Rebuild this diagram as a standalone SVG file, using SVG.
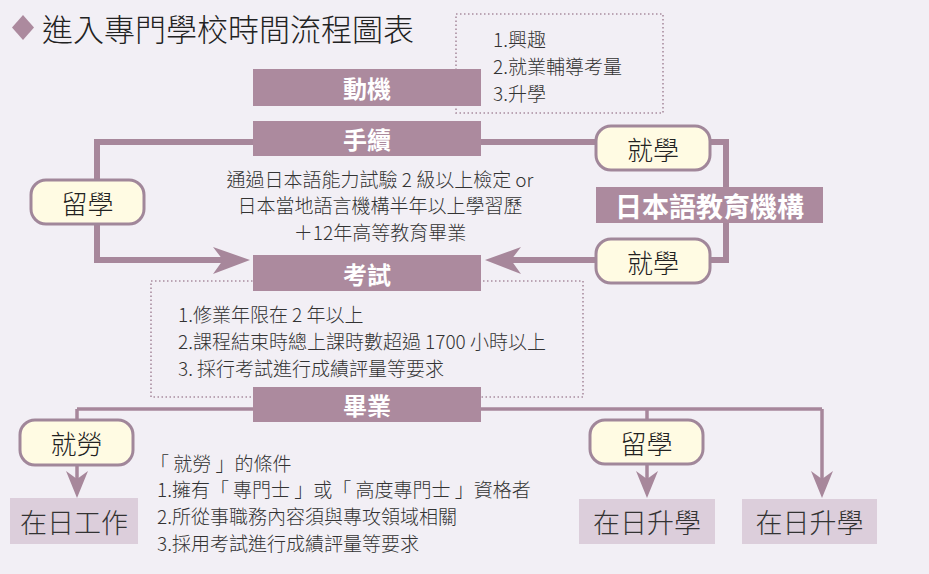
<svg xmlns="http://www.w3.org/2000/svg" width="929" height="574" viewBox="0 0 929 574">
<style>
text{font-family:"Noto Sans CJK TC","Noto Sans CJK SC",sans-serif;dominant-baseline:central;font-weight:300;}
.bx{fill:#ac8a9e;}
.bt{fill:#ffffff;font-weight:bold;font-size:24px;text-anchor:middle;}
.pill{fill:#fffbe3;stroke:#a1879a;stroke-width:3;}
.pt{fill:#222;font-size:26px;text-anchor:middle;}
.lt{fill:#dccedb;}
.ltt{fill:#333;font-size:27px;text-anchor:middle;}
.body{fill:#333;font-size:19px;}
.dot{fill:none;stroke:#a98d9f;stroke-width:1.6;stroke-dasharray:1.5 2.5;}
.thick{fill:none;stroke:#a7879b;stroke-width:6;}
.thin{fill:none;stroke:#a7879b;stroke-width:3.5;}
.ah{fill:#a7879b;}
</style>
<rect x="0" y="0" width="929" height="574" fill="#f2eff5"/>

<g id="title">
<polygon points="23,15 34,27.5 23,40 12,27.5" fill="#ac8a9e"/>
<text x="42" y="27" style="font-size:31px;fill:#222;">進入專門學校時間流程圖表</text>
</g>

<g id="connectors">
<path class="thick" d="M253,142 H97 V260 H225"/>
<path class="ah" d="M250,260 L213,247 L223,260 L213,274 Z"/>
<path class="thick" d="M481,142 H726 V260 H510"/>
<path class="ah" d="M485,260 L521,247 L511,260 L521,274 Z"/>
<path class="thin" d="M77,409 H822"/>
<path class="thin" d="M77,409 V485"/>
<path class="ah" d="M77,498 L66,471 L77,479 L88,471 Z"/>
<path class="thin" d="M647,409 V485"/>
<path class="ah" d="M647,498 L636,471 L647,479 L658,471 Z"/>
<path class="thin" d="M822,409 V485"/>
<path class="ah" d="M822,498 L811,471 L822,479 L833,471 Z"/>
</g>

<g id="motive-notes">
<rect class="dot" x="456" y="14" width="207" height="99"/>
<text class="body" x="493" y="38">1.興趣</text>
<text class="body" x="493" y="65">2.就業輔導考量</text>
<text class="body" x="493" y="92">3.升學</text>
</g>

<g id="exam-notes">
<rect class="dot" x="151" y="281" width="432" height="116"/>
<text class="body" x="178" y="313">1.修業年限在 2 年以上</text>
<text class="body" x="178" y="340">2.課程結束時總上課時數超過 1700 小時以上</text>
<text class="body" x="178" y="367">3. 採行考試進行成績評量等要求</text>
</g>

<g id="motive"><rect class="bx" x="253" y="69" width="228" height="37"/><text class="bt" x="367" y="87.5">動機</text></g>
<g id="procedure"><rect class="bx" x="253" y="121" width="228" height="35"/><text class="bt" x="367" y="138.5">手續</text></g>
<g id="exam"><rect class="bx" x="253" y="255" width="228" height="36"/><text class="bt" x="367" y="273">考試</text></g>
<g id="graduate"><rect class="bx" x="253" y="387" width="228" height="35"/><text class="bt" x="367" y="404.5">畢業</text></g>

<g id="requirements">
<text class="body" x="380" y="178" text-anchor="middle">通過日本語能力試驗 2 級以上檢定 or</text>
<text class="body" x="380" y="204" text-anchor="middle">日本當地語言機構半年以上學習歷</text>
<text class="body" x="380" y="231" text-anchor="middle">＋12年高等教育畢業</text>
</g>

<g id="study-abroad-left"><rect class="pill" x="31" y="180" width="113" height="44" rx="15"/><text class="pt" x="87.5" y="202">留學</text></g>
<g id="enroll-top"><rect class="pill" x="596" y="126" width="114" height="44" rx="15"/><text class="pt" x="653" y="148">就學</text></g>
<g id="japanese-school"><rect class="bx" x="596" y="187" width="227" height="36"/><text class="bt" x="709.5" y="205" style="font-size:27px;">日本語教育機構</text></g>
<g id="enroll-bottom"><rect class="pill" x="596" y="239" width="114" height="44" rx="15"/><text class="pt" x="653" y="261">就學</text></g>

<g id="employment"><rect class="pill" x="20" y="420" width="113" height="45" rx="15"/><text class="pt" x="76.5" y="442.5">就勞</text></g>
<g id="work-in-japan"><rect class="lt" x="10" y="498" width="128" height="46"/><text class="ltt" x="74" y="521">在日工作</text></g>
<g id="employment-conditions">
<text class="body" x="150" y="462">「 就勞 」的條件</text>
<text class="body" x="157" y="488">1.擁有「 專門士 」或「 高度專門士 」資格者</text>
<text class="body" x="157" y="515">2.所從事職務內容須與專攻領域相關</text>
<text class="body" x="157" y="542">3.採用考試進行成績評量等要求</text>
</g>

<g id="study-abroad-right"><rect class="pill" x="590" y="420" width="113" height="44" rx="15"/><text class="pt" x="646.5" y="442">留學</text></g>
<g id="further-study-1"><rect class="lt" x="579" y="499" width="136" height="45"/><text class="ltt" x="647" y="521.5">在日升學</text></g>
<g id="further-study-2"><rect class="lt" x="742" y="499" width="135" height="45"/><text class="ltt" x="809.5" y="521.5">在日升學</text></g>
</svg>
